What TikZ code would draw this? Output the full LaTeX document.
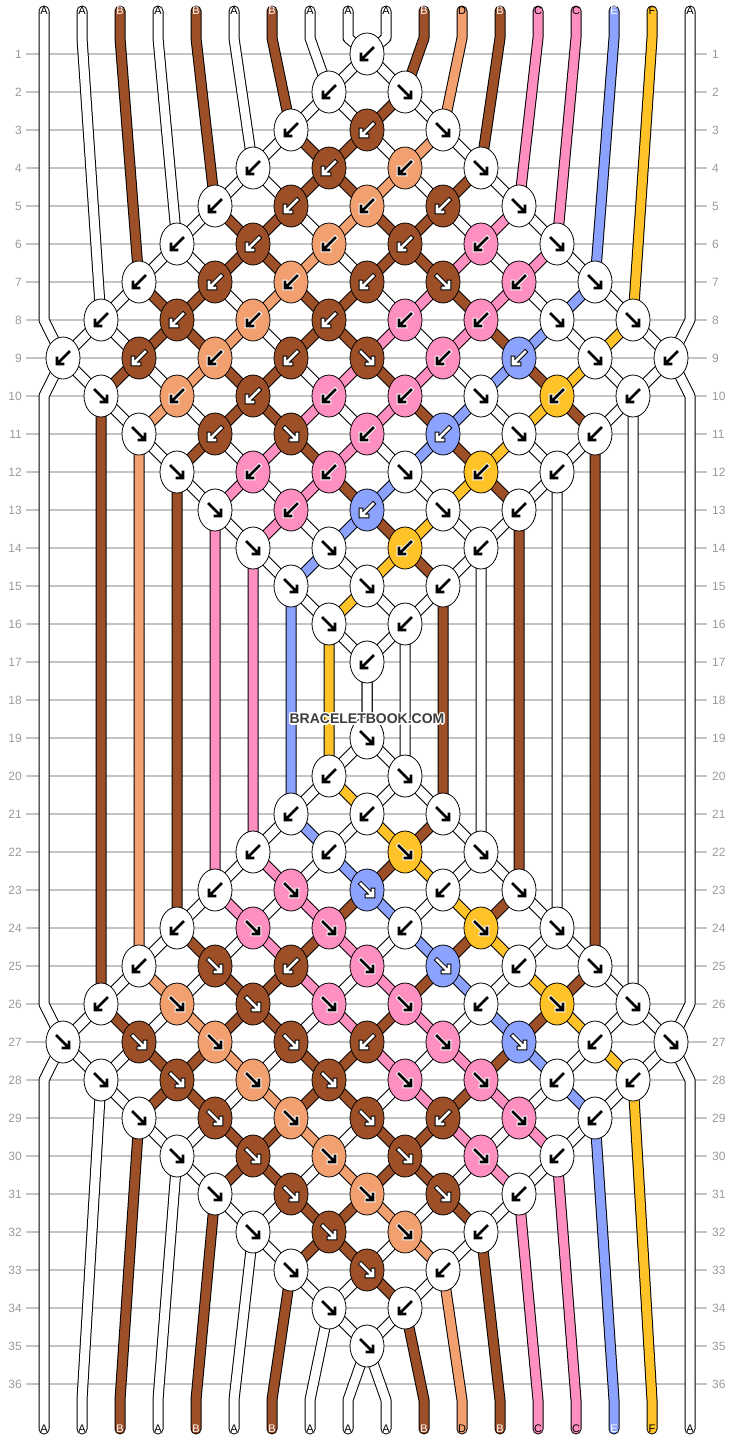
\documentclass[tikz,border=0pt]{standalone}
\usepackage{fontspec}
\setmainfont{Liberation Sans}
\usetikzlibrary{shapes.geometric}

\definecolor{cA}{HTML}{FFFFFF}
\definecolor{cB}{HTML}{9D5027}
\definecolor{cC}{HTML}{FF8EC1}
\definecolor{cD}{HTML}{F2A06F}
\definecolor{cE}{HTML}{8CA2FF}
\definecolor{cF}{HTML}{FFC227}
\definecolor{rulegray}{HTML}{C4C4C4}
\definecolor{numgray}{HTML}{9A9A9A}
\definecolor{markgray}{HTML}{3C3C3C}

\pgfdeclarelayer{grid}
\pgfdeclarelayer{strands}
\pgfsetlayers{grid,strands,main}

\tikzset{
  gridline/.style={rulegray, line width=1.2pt},
  rownum/.style={text=numgray, inner sep=2pt, font=\fontsize{12}{12}\selectfont},
  endlabel/.style={inner sep=0pt, font=\fontsize{11}{11}\selectfont},
  strand/.style={double=#1, double distance=9pt, line width=1pt, line cap=round, line join=round},
  knot/.style={draw, ellipse, line width=0.8pt, minimum width=34pt, minimum height=42pt, inner sep=0pt},
  tipA/.style={black}, tipB/.style={white}, tipC/.style={black},
  tipD/.style={black}, tipE/.style={white}, tipF/.style={black},
  rimA/.style={white}, rimB/.style={black}, rimC/.style={white},
  rimD/.style={white}, rimE/.style={black}, rimF/.style={white},
  dirL/.style={}, dirR/.style={xscale=-1},
  pics/knotarrow/.style={code={
    \draw[rim#1, line width=4.6pt, line cap=rect] (6,-6) -- (-4.5,4.5) (-6,0) -- (-6,6) -- (0,6);
    \draw[tip#1, line width=2.6pt, line cap=rect] (6,-6) -- (-4.5,4.5) (-6,0) -- (-6,6) -- (0,6);
  }},
  watermark/.style={font=\bfseries\fontsize{14}{14}\selectfont, inner sep=0pt}
}

\begin{document}
\begin{tikzpicture}[x=1pt, y=-1pt]
  \useasboundingbox (0,0) rectangle (734,1440);

  % row numbers and rules
  \begin{pgfonlayer}{grid}
    \foreach \r in {1,...,36} {
      \node[rownum, anchor=east] (nl\r) at (24,{16+38*\r}) {\r};
      \node[rownum, anchor=west] (nr\r) at (710,{16+38*\r}) {\r};
      \draw[gridline] ([xshift=2pt]nl\r.east) -- ([xshift=-3pt]nr\r.west);
    }
  \end{pgfonlayer}

  % string letters, top and bottom
  \foreach \c [count=\i from 0] in {A,A,B,A,B,A,B,A,A,A,B,D,B,C,C,E,F,A} {
    \node[endlabel, tip\c] (t\i) at ({44+38*\i},11) {\c};
    \node[endlabel, tip\c] (b\i) at ({44+38*\i},1429) {\c};
  }

  % knots: row / first gap / colour and direction of each knot
  \foreach \r/\k/\row in {
    1/8/{A/L},
    2/7/{A/L,A/R},
    3/6/{A/L,B/L,A/R},
    4/5/{A/L,B/L,D/L,A/R},
    5/4/{A/L,B/L,D/L,B/L,A/R},
    6/3/{A/L,B/L,D/L,B/L,C/L,A/R},
    7/2/{A/L,B/L,D/L,B/L,B/R,C/L,A/R},
    8/1/{A/L,B/L,D/L,B/L,C/L,C/L,A/R,A/R},
    9/0/{A/L,B/L,D/L,B/L,B/R,C/L,E/L,A/R,A/L},
    10/1/{A/R,D/L,B/L,C/L,C/L,A/R,F/L,A/L},
    11/2/{A/R,B/L,B/R,C/L,E/L,A/R,A/L},
    12/3/{A/R,C/L,C/L,A/R,F/L,A/L},
    13/4/{A/R,C/L,E/L,A/R,A/L},
    14/5/{A/R,A/R,F/L,A/L},
    15/6/{A/R,A/R,A/L},
    16/7/{A/R,A/L},
    17/8/{A/L},
    19/8/{A/R},
    20/7/{A/L,A/R},
    21/6/{A/L,A/L,A/R},
    22/5/{A/L,A/L,F/R,A/R},
    23/4/{A/L,C/R,E/R,A/L,A/R},
    24/3/{A/L,C/R,C/R,A/L,F/R,A/R},
    25/2/{A/L,B/R,B/L,C/R,E/R,A/L,A/R},
    26/1/{A/L,D/R,B/R,C/R,C/R,A/L,F/R,A/R},
    27/0/{A/R,B/R,D/R,B/R,B/L,C/R,E/R,A/L,A/R},
    28/1/{A/R,B/R,D/R,B/R,C/R,C/R,A/L,A/L},
    29/2/{A/R,B/R,D/R,B/R,B/L,C/R,A/L},
    30/3/{A/R,B/R,D/R,B/R,C/R,A/L},
    31/4/{A/R,B/R,D/R,B/R,A/L},
    32/5/{A/R,B/R,D/R,A/L},
    33/6/{A/R,B/R,A/L},
    34/7/{A/R,A/L},
    35/8/{A/R}} {
    \foreach \c/\d [count=\i] in \row {
      \node[knot, fill=c\c] (k\r-\i) at ({63+38*(\k+2*\i-2)},{16+38*\r}) {};
      \pic[dir\d] at (k\r-\i) {knotarrow=\c};
    }
  }

  \begin{pgfonlayer}{strands}
    % strings that start on the left half
    \foreach \j/\c in {1/A,2/B,3/A,4/B,5/A,6/B,7/A} {
      \pgfmathtruncatemacro\ra{9-\j}
      \pgfmathtruncatemacro\rb{17-\j}
      \pgfmathtruncatemacro\rc{19+\j}
      \pgfmathtruncatemacro\rd{27+\j}
      \pgfmathtruncatemacro\ia{\j+1}
      \draw[strand=c\c] (t\j.center) -- ++(0,27) -- (k\ra-1.center) -- (k\rb-\ia.center)
        -- (k\rc-\ia.center) -- (k\rd-1.center) -- ([yshift=29pt]b\j.center) -- (b\j.center);
    }
    % strings that start on the right half
    \foreach \m/\c in {1/B,2/D,3/B,4/C,5/C,6/E,7/F} {
      \pgfmathtruncatemacro\idx{9+\m}
      \pgfmathtruncatemacro\ra{\m+1}
      \pgfmathtruncatemacro\rb{\m+9}
      \pgfmathtruncatemacro\rc{27-\m}
      \pgfmathtruncatemacro\rd{35-\m}
      \draw[strand=c\c] (t\idx.center) -- ++(0,27) -- (k\ra-\ra.center) -- (k\rb-1.center)
        -- (k\rc-1.center) -- (k\rd-\ra.center) -- ([yshift=29pt]b\idx.center) -- (b\idx.center);
    }
    % the four that touch the edges
    \draw[strand=cA] (t0.center) -- (t0 |- nl8) -- (k9-1.center) -- (k17-1.center)
      -- (k19-1.center) -- (k27-1.center) -- (b0 |- nl28) -- (b0.center);
    \draw[strand=cA] (t8.center) -- ++(0,27) -- (k1-1.center) -- (k9-9.center) -- (t17 |- nl10)
      -- (t17 |- nl26) -- (k27-9.center) -- (k35-1.center) -- ([yshift=29pt]b8.center) -- (b8.center);
    \draw[strand=cA] (t9.center) -- ++(0,27) -- (k1-1.center) -- (k9-1.center) -- (t0 |- nl10)
      -- (t0 |- nl26) -- (k27-1.center) -- (k35-1.center) -- ([yshift=29pt]b9.center) -- (b9.center);
    \draw[strand=cA] (t17.center) -- (t17 |- nl8) -- (k9-9.center) -- (k17-1.center)
      -- (k19-1.center) -- (k27-9.center) -- (b17 |- nl28) -- (b17.center);
  \end{pgfonlayer}

  % watermark
  \foreach \a in {0,45,...,315}
    \node[watermark, text=white] at ([shift={(\a:1.3pt)}]367,719) {BRACELETBOOK.COM};
  \node[watermark, text=markgray] (mark) at (367,719) {BRACELETBOOK.COM};
\end{tikzpicture}
\end{document}
